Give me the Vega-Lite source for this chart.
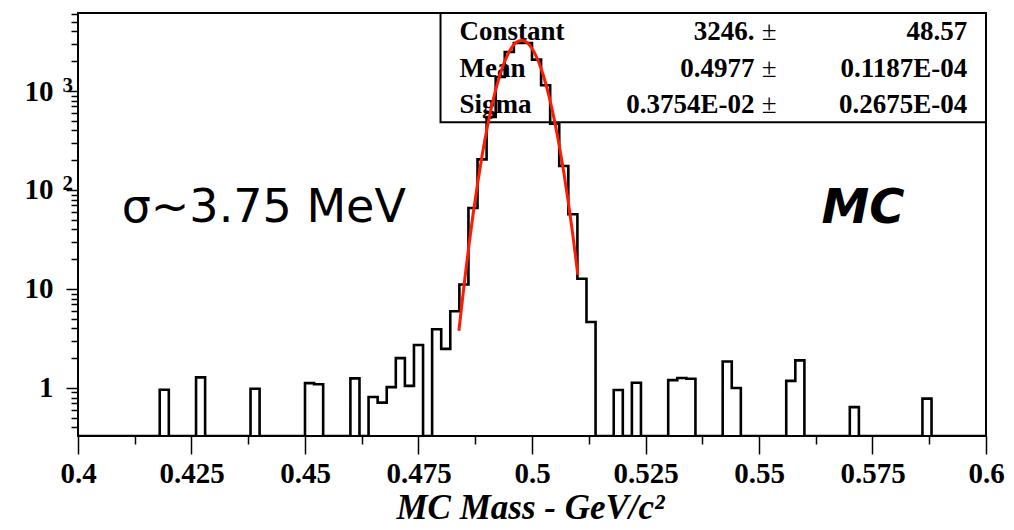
{
  "$schema": "https://vega.github.io/schema/vega-lite/v6.json",
  "width": 908,
  "height": 423,
  "autosize": "none",
  "padding": {"left": 78, "top": 13, "right": 28, "bottom": 94},
  "background": "white",
  "config": {
    "view": {"stroke": "black", "strokeWidth": 2},
    "axis": {"grid": false, "domain": false, "tickColor": "black", "tickWidth": 1.5, "labelColor": "black", "labelFont": "Liberation Serif", "labelFontWeight": "bold", "labelFontSize": 29, "titleColor": "black"}
  },
  "datasets": {
    "hist": [
      {"x":0.400,"n":0},{"x":0.402,"n":0},{"x":0.404,"n":0},{"x":0.406,"n":0},{"x":0.408,"n":0},
      {"x":0.410,"n":0},{"x":0.412,"n":0},{"x":0.414,"n":0},{"x":0.416,"n":0},{"x":0.418,"n":0.96},
      {"x":0.420,"n":0},{"x":0.422,"n":0},{"x":0.424,"n":0},{"x":0.426,"n":1.28},{"x":0.428,"n":0},
      {"x":0.430,"n":0},{"x":0.432,"n":0},{"x":0.434,"n":0},{"x":0.436,"n":0},{"x":0.438,"n":0.98},
      {"x":0.440,"n":0},{"x":0.442,"n":0},{"x":0.444,"n":0},{"x":0.446,"n":0},{"x":0.448,"n":0},
      {"x":0.450,"n":1.12},{"x":0.452,"n":1.09},{"x":0.454,"n":0},{"x":0.456,"n":0},{"x":0.458,"n":0},
      {"x":0.460,"n":1.25},{"x":0.462,"n":0},{"x":0.464,"n":0.81},{"x":0.466,"n":0.71},{"x":0.468,"n":1.02},
      {"x":0.470,"n":2.0},{"x":0.472,"n":1.05},{"x":0.474,"n":2.72},{"x":0.476,"n":0},{"x":0.478,"n":3.92},
      {"x":0.480,"n":2.48},{"x":0.482,"n":5.96},{"x":0.484,"n":11.1},{"x":0.486,"n":65.8},{"x":0.488,"n":204},
      {"x":0.490,"n":546},{"x":0.492,"n":1385},{"x":0.494,"n":2477},{"x":0.496,"n":3055},{"x":0.498,"n":3055},
      {"x":0.500,"n":2075},{"x":0.502,"n":1142},{"x":0.504,"n":468},{"x":0.506,"n":175},{"x":0.508,"n":56.8},
      {"x":0.510,"n":12.7},{"x":0.512,"n":4.64},{"x":0.514,"n":0},{"x":0.516,"n":0},{"x":0.518,"n":0.955},
      {"x":0.520,"n":0},{"x":0.522,"n":1.13},{"x":0.524,"n":0},{"x":0.526,"n":0},{"x":0.528,"n":0},
      {"x":0.530,"n":1.20},{"x":0.532,"n":1.26},{"x":0.534,"n":1.24},{"x":0.536,"n":0},{"x":0.538,"n":0},
      {"x":0.540,"n":0},{"x":0.542,"n":1.85},{"x":0.544,"n":1.0},{"x":0.546,"n":0},{"x":0.548,"n":0},
      {"x":0.550,"n":0},{"x":0.552,"n":0},{"x":0.554,"n":0},{"x":0.556,"n":1.18},{"x":0.558,"n":1.90},
      {"x":0.560,"n":0},{"x":0.562,"n":0},{"x":0.564,"n":0},{"x":0.566,"n":0},{"x":0.568,"n":0},
      {"x":0.570,"n":0.64},{"x":0.572,"n":0},{"x":0.574,"n":0},{"x":0.576,"n":0},{"x":0.578,"n":0},
      {"x":0.580,"n":0},{"x":0.582,"n":0},{"x":0.584,"n":0},{"x":0.586,"n":0.78},{"x":0.588,"n":0},
      {"x":0.590,"n":0},{"x":0.592,"n":0},{"x":0.594,"n":0},{"x":0.596,"n":0},{"x":0.598,"n":0},
      {"x":0.600,"n":0}
    ],
    "fit": [
      {"x":0.4839,"f":3.78},{"x":0.485,"f":10.6},{"x":0.486,"f":25.2},{"x":0.487,"f":55.9},{"x":0.488,"f":115.2},
      {"x":0.489,"f":221.3},{"x":0.490,"f":396.1},{"x":0.491,"f":660.3},{"x":0.492,"f":1025},{"x":0.493,"f":1482},
      {"x":0.494,"f":1997},{"x":0.495,"f":2506},{"x":0.496,"f":2930},{"x":0.497,"f":3190},{"x":0.4977,"f":3246},
      {"x":0.498,"f":3236},{"x":0.499,"f":3057},{"x":0.500,"f":2691},{"x":0.501,"f":2206},{"x":0.502,"f":1684},
      {"x":0.503,"f":1198},{"x":0.504,"f":794},{"x":0.505,"f":490},{"x":0.506,"f":281.7},{"x":0.507,"f":150.9},
      {"x":0.508,"f":75.3},{"x":0.509,"f":35.0},{"x":0.510,"f":15.1},{"x":0.5101,"f":13.9}
    ],
    "stats": [
      {"names":"Constant\nMean\nSigma","values":"3246.\n0.4977\n0.3754E-02","pm":"±\n±\n±","errors":"48.57\n0.1187E-04\n0.2675E-04"}
    ],
    "notes": [
      {"sigma":"σ~3.75 MeV","tag":"MC"}
    ]
  },
  "resolve": {"axis": {"x": "independent", "y": "independent"}},
  "layer": [
    {
      "data": {"name": "stats"},
      "mark": {"type": "rect", "fill": null, "fillOpacity": 0, "stroke": "black", "strokeWidth": 2},
      "encoding": {
        "x": {"datum": 0.47985, "type": "quantitative", "scale": {"domain": [0.4, 0.6], "nice": false, "zero": false}, "axis": null},
        "x2": {"datum": 0.6},
        "y": {"datum": 6140, "type": "quantitative", "scale": {"type": "log", "domain": [0.327, 6140], "nice": false, "clamp": true}, "axis": null},
        "y2": {"datum": 483}
      }
    },
    {
      "data": {"name": "stats"},
      "mark": {"type": "text", "align": "left", "baseline": "alphabetic", "lineBreak": "\n", "lineHeight": 36.5, "font": "Liberation Serif", "fontWeight": "bold", "fontSize": 27, "color": "black"},
      "encoding": {
        "x": {"datum": 0.48404, "type": "quantitative", "axis": null},
        "y": {"datum": 3251, "type": "quantitative", "axis": null},
        "text": {"field": "names"}
      }
    },
    {
      "data": {"name": "stats"},
      "mark": {"type": "text", "align": "right", "baseline": "alphabetic", "lineBreak": "\n", "lineHeight": 36.5, "font": "Liberation Serif", "fontWeight": "bold", "fontSize": 27, "color": "black"},
      "encoding": {
        "x": {"datum": 0.54899, "type": "quantitative", "axis": null},
        "y": {"datum": 3251, "type": "quantitative", "axis": null},
        "text": {"field": "values"}
      }
    },
    {
      "data": {"name": "stats"},
      "mark": {"type": "text", "align": "center", "baseline": "alphabetic", "lineBreak": "\n", "lineHeight": 36.5, "font": "Liberation Serif", "fontWeight": "normal", "fontSize": 27, "color": "black"},
      "encoding": {
        "x": {"datum": 0.55223, "type": "quantitative", "axis": null},
        "y": {"datum": 3251, "type": "quantitative", "axis": null},
        "text": {"field": "pm"}
      }
    },
    {
      "data": {"name": "stats"},
      "mark": {"type": "text", "align": "right", "baseline": "alphabetic", "lineBreak": "\n", "lineHeight": 36.5, "font": "Liberation Serif", "fontWeight": "bold", "fontSize": 27, "color": "black"},
      "encoding": {
        "x": {"datum": 0.59588, "type": "quantitative", "axis": null},
        "y": {"datum": 3251, "type": "quantitative", "axis": null},
        "text": {"field": "errors"}
      }
    },
    {
      "data": {"name": "hist"},
      "mark": {"type": "line", "interpolate": "step-after", "color": "black", "strokeWidth": 2.6, "clip": true, "invalid": null},
      "encoding": {
        "x": {"field": "x", "type": "quantitative",
          "axis": {"orient": "bottom", "values": [0.4, 0.425, 0.45, 0.475, 0.5, 0.525, 0.55, 0.575, 0.6], "labelExpr": "format(datum.value, '.3~f')", "tickSize": 18, "labelPadding": 28, "labelBaseline": "alphabetic", "labelFlush": false, "labelOverlap": false,
            "title": "MC Mass - GeV/c²", "titleFont": "Liberation Serif", "titleFontWeight": "bold", "titleFontStyle": "italic", "titleFontSize": 35, "titleBaseline": "alphabetic", "titleY": 82, "titleX": 452, "titleAlign": "center"}},
        "y": {"field": "n", "type": "quantitative",
          "axis": {"orient": "left", "values": [1, 10, 100, 1000], "labelExpr": "datum.value == 1 ? '1' : '10'", "tickSize": 12, "labelPadding": 13, "labelAlign": "right", "labelBaseline": "middle", "title": null}}
      }
    },
    {
      "data": {"name": "fit"},
      "mark": {"type": "line", "interpolate": "monotone", "color": "#ff1a00", "strokeWidth": 3},
      "encoding": {
        "x": {"field": "x", "type": "quantitative",
          "axis": {"orient": "bottom", "values": [0.4125, 0.4375, 0.4625, 0.4875, 0.5125, 0.5375, 0.5625, 0.5875], "labels": false, "tickSize": 8, "title": null}},
        "y": {"field": "f", "type": "quantitative",
          "axis": {"orient": "left", "values": [0.4, 0.5, 0.6, 0.7, 0.8, 0.9, 2, 3, 4, 5, 6, 7, 8, 9, 20, 30, 40, 50, 60, 70, 80, 90, 200, 300, 400, 500, 600, 700, 800, 900, 2000, 3000, 4000, 5000, 6000], "labels": false, "tickSize": 7, "title": null}}
      }
    },
    {
      "data": {"name": "notes"},
      "mark": {"type": "text", "align": "left", "baseline": "alphabetic", "font": "DejaVu Sans", "fontSize": 46, "color": "black"},
      "encoding": {
        "x": {"datum": 0.40962, "type": "quantitative", "axis": null},
        "y": {"datum": 47.5, "type": "quantitative",
          "axis": {"orient": "left", "values": [100, 1000], "labelExpr": "datum.value == 100 ? '2' : '3'", "ticks": false, "tickSize": 0, "labelPadding": 16, "labelAlign": "left", "labelBaseline": "alphabetic", "labelDy": -3, "labelFontSize": 21, "title": null}},
        "text": {"field": "sigma"}
      }
    },
    {
      "data": {"name": "notes"},
      "mark": {"type": "text", "align": "left", "baseline": "alphabetic", "font": "DejaVu Sans", "fontWeight": "bold", "fontStyle": "italic", "fontSize": 48, "color": "black"},
      "encoding": {
        "x": {"datum": 0.56374, "type": "quantitative", "axis": null},
        "y": {"datum": 46.4, "type": "quantitative", "axis": null},
        "text": {"field": "tag"}
      }
    }
  ]
}
